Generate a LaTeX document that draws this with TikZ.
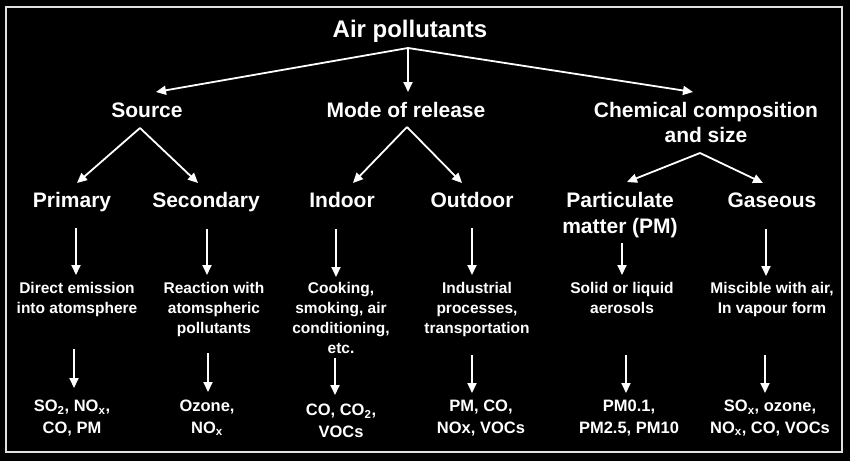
\documentclass[tikz,border=0pt]{standalone}
\usepackage{fontspec}
\setmainfont{Liberation Sans}
\usetikzlibrary{arrows.meta}
\begin{document}
\begin{tikzpicture}[x=1pt,y=-1pt,
  every node/.style={text=white, inner sep=0pt, align=center, anchor=base},
  ttl/.style={font=\bfseries\fontsize{24}{28}\selectfont},
  lvltwo/.style={font=\bfseries\fontsize{21}{25}\selectfont},
  lvlthree/.style={font=\bfseries\fontsize{21}{26}\selectfont},
  desc/.style={font=\bfseries\fontsize{15.5}{20}\selectfont},
  chemtxt/.style={font=\bfseries\fontsize{16.5}{21.5}\selectfont},
  arr/.style={draw=white, line width=1.8pt, -{Triangle[length=10pt,width=9pt]}},
  frame/.style={draw=black!12, line width=2pt}
]
\useasboundingbox (0,0) rectangle (850,461);
\fill[black] (0,0) rectangle (850,461);
\draw[frame] (6,7) rectangle (842,452);

% texts (anchor = baseline of the last line)
\node[ttl] (air) at (410,37) {Air pollutants};
\node[lvltwo] (src) at (147,117) {Source};
\node[lvltwo] (mode) at (406,117) {Mode of release};
\node[lvltwo] (chem) at (706,142) {Chemical composition\\and size};

\node[lvlthree] (pri) at (72,207) {Primary};
\node[lvlthree] (sec) at (206,207) {Secondary};
\node[lvlthree] (ind) at (342,207) {Indoor};
\node[lvlthree] (out) at (472,207) {Outdoor};
\node[lvlthree] (pm) at (620,233) {Particulate\\matter (PM)};
\node[lvlthree] (gas) at (772,207) {Gaseous};

\node[desc] (dpri) at (77,313) {Direct emission\\into atomsphere};
\node[desc] (dsec) at (214,333) {Reaction with\\atomspheric\\pollutants};
\node[desc] (dind) at (341,353) {Cooking,\\smoking, air\\conditioning,\\etc.};
\node[desc] (dout) at (477,333) {Industrial\\processes,\\transportation};
\node[desc] (dpm) at (622,313) {Solid or liquid\\aerosols};
\node[desc] (dgas) at (772,313) {Miscible with air,\\In vapour form};

\node[chemtxt] (cpri) at (72,433) {SO\textsubscript{2}, NO\textsubscript{x},\\CO, PM};
\node[chemtxt] (csec) at (207,433) {Ozone,\\NO\textsubscript{x}};
\node[chemtxt] (cind) at (341,437) {CO, CO\textsubscript{2},\\VOCs};
\node[chemtxt] (cout) at (481,433) {PM, CO,\\NOx, VOCs};
\node[chemtxt] (cpm) at (629,433) {PM0.1,\\PM2.5, PM10};
\node[chemtxt] (cgas) at (770,433) {SO\textsubscript{x}, ozone,\\NO\textsubscript{x}, CO, VOCs};

% connector points
\coordinate (apA) at (408,48);
\coordinate (tSrc) at (156,92);
\coordinate (tMode) at (408,92);
\coordinate (tChem) at (693,92);

\coordinate (apS) at (140,128);
\coordinate (tPri) at (77,183);
\coordinate (tSec) at (198,183);
\coordinate (apM) at (407,127);
\coordinate (tInd) at (353,183);
\coordinate (tOut) at (462,183);
\coordinate (apC) at (700,153);
\coordinate (tPm) at (627,182);
\coordinate (tGas) at (763,183);

\coordinate (a1s) at (76,228);  \coordinate (a1e) at (76,275);
\coordinate (a2s) at (207,229); \coordinate (a2e) at (207,275);
\coordinate (a3s) at (336,229); \coordinate (a3e) at (336,277);
\coordinate (a4s) at (472,228); \coordinate (a4e) at (472,275);
\coordinate (a5s) at (622,243); \coordinate (a5e) at (622,275);
\coordinate (a6s) at (766,229); \coordinate (a6e) at (766,276);

\coordinate (b1s) at (74,349);  \coordinate (b1e) at (74,388);
\coordinate (b2s) at (208,353); \coordinate (b2e) at (208,392);
\coordinate (b3s) at (335,358); \coordinate (b3e) at (335,395);
\coordinate (b4s) at (472,355); \coordinate (b4e) at (472,393);
\coordinate (b5s) at (626,355); \coordinate (b5e) at (626,393);
\coordinate (b6s) at (765,355); \coordinate (b6e) at (765,393);

% connectors
\foreach \s/\e in {apA/tSrc, apA/tMode, apA/tChem,
                   apS/tPri, apS/tSec, apM/tInd, apM/tOut, apC/tPm, apC/tGas,
                   a1s/a1e, a2s/a2e, a3s/a3e, a4s/a4e, a5s/a5e, a6s/a6e,
                   b1s/b1e, b2s/b2e, b3s/b3e, b4s/b4e, b5s/b5e, b6s/b6e}
  \draw[arr] (\s) -- (\e);
\end{tikzpicture}
\end{document}
